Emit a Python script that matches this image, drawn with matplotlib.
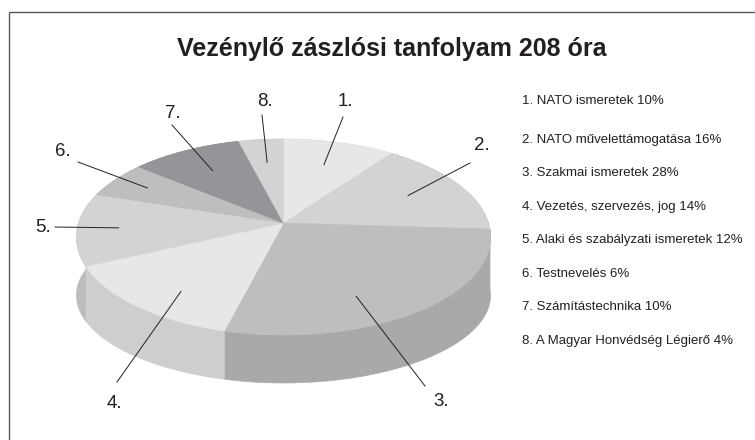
import numpy as np
import matplotlib.pyplot as plt
from matplotlib.patches import Polygon, Rectangle

# ---- data ----
title = "Vezénylő zászlósi tanfolyam 208 óra"
categories = ["NATO ismeretek", "NATO művelettámogatása", "Szakmai ismeretek",
              "Vezetés, szervezés, jog", "Alaki és szabályzati ismeretek",
              "Testnevelés", "Számítástechnika", "A Magyar Honvédség Légierő"]
shares = [10, 16, 28, 14, 12, 6, 10, 4]

# ---- style / layout (pixel coords, y down) ----
top_colors = ['#e6e7e8', '#d1d3d4', '#bcbec0', '#e6e7e8',
              '#d1d3d4', '#bcbec0', '#939598', '#d1d3d4']
ink = '#231f20'

CX, CY = 283.5, 223      # apex of the pie
A, B, K = 205, 96, 0.143  # half width, half depth, perspective
H0, H1 = 60, 12           # wall height (shrinks toward the front)

label_pos = [(345, 101), (482, 145), (441, 402), (114, 403),
             (43, 227), (63, 152), (173, 113), (265, 102)]
leader_start = [(343, 117), (470, 163), (425, 386), (117, 382),
                (55, 227), (78, 162), (172, 125), (262, 115)]
# where the leader ends inside each slice: fraction of its angle, radius
leader_frac = [0.5, 0.5, 0.61, 0.41, 0.5, 0.5, 0.5, 0.5]
leader_r = [0.7, 0.7, 0.76, 0.79, 0.8, 0.8, 0.7, 0.7]

legend_x = 522
legend_y = [101, 140, 173.5, 207, 240.5, 274, 307.5, 341]


def project(theta, r=1.0):
    """theta in degrees, clockwise from 12 o'clock"""
    t = np.radians(theta)
    X = r * np.sin(t)
    Z = -r * np.cos(t)          # + is toward the viewer
    s = 1.0 / (1.0 - K * Z)
    return CX + A * X * s, CY + B * Z * s, Z


def darker(c, f=0.89):
    rgb = np.array([int(c[i:i + 2], 16) for i in (1, 3, 5)]) / 255.0
    return tuple(rgb * f)


fig = plt.figure(figsize=(7.55, 4.4), dpi=100)
ax = fig.add_axes([0, 0, 1, 1])
ax.set_xlim(0, 755)
ax.set_ylim(440, 0)
ax.axis('off')

# frame (cut off at the right and bottom like the scan)
ax.add_patch(Rectangle((8.5, 12.5), 800, 500, fill=False, ec='#5a5a5a', lw=1.0))

ax.text(392, 49, title, ha='center', va='center', fontsize=18,
        fontweight='bold', family='Liberation Sans', color=ink)

edges = np.cumsum([0] + shares) / sum(shares) * 360

# side walls, far ones first
walls = []
for i in range(len(shares)):
    th = np.linspace(edges[i], edges[i + 1], 80)
    x, y, z = project(th)
    yb = y + H0 - H1 * z
    pts = np.vstack([np.column_stack([x, y]), np.column_stack([x[::-1], yb[::-1]])])
    walls.append((z.mean(), pts, darker(top_colors[i])))
for _, pts, col in sorted(walls, key=lambda w: w[0]):
    ax.add_patch(Polygon(pts, closed=True, fc=col, ec=col, lw=0.4, zorder=1))

# top faces
for i in range(len(shares)):
    th = np.linspace(edges[i], edges[i + 1], 80)
    x, y, _ = project(th)
    pts = np.vstack([[CX, CY], np.column_stack([x, y])])
    ax.add_patch(Polygon(pts, closed=True, fc=top_colors[i], ec=top_colors[i],
                         lw=0.4, zorder=2))

# number labels with leader lines
for i in range(len(shares)):
    ang = edges[i] + leader_frac[i] * (edges[i + 1] - edges[i])
    tx, ty, _ = project(ang, leader_r[i])
    sx, sy = leader_start[i]
    ax.plot([sx, tx], [sy, ty], color=ink, lw=0.7, zorder=3)
    ax.text(*label_pos[i], f"{i + 1}.", ha='center', va='center', fontsize=13.5,
            family='Liberation Sans', color=ink, zorder=4)

# legend text
for i, (name, v) in enumerate(zip(categories, shares)):
    ax.text(legend_x, legend_y[i], f"{i + 1}. {name} {v}%", ha='left', va='center',
            fontsize=9.5, family='Liberation Sans', color=ink)

fig.savefig('out.png', dpi=100)
